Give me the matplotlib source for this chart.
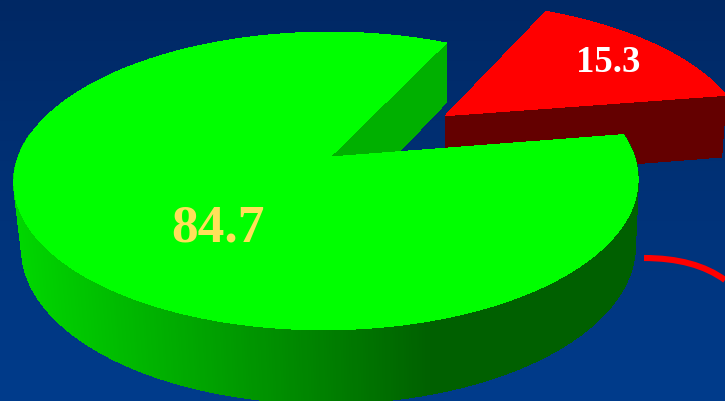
import numpy as np
import matplotlib
matplotlib.use('Agg')
import matplotlib.pyplot as plt
from matplotlib.colors import LinearSegmentedColormap
from matplotlib.patches import PathPatch, Polygon
from matplotlib.path import Path

labels = ['84.7', '15.3']
values = [84.7, 15.3]

# pie geometry, in pixels
W, H = 725, 401
APEX = (330, 157)
CENTER_X, CENTER_Y = 326, 157
SX, SY, PERSP = 308, 145, 0.161
SHEAR = 3
DROP, DROP_Y = 66, 0.05
SLICE_MID = 36.65
EXPLODE = 0.5


def project(u, v):
    # disc coordinates to the tilted top face
    d = 1 + PERSP * v
    return CENTER_X + SX * u / d + SHEAR * (v + 0.16), CENTER_Y - SY * v / d


def lower(x, y):
    # same point on the underside of the pie
    return x + (467 - x) * 0.0176, y + DROP + (y - 181) * DROP_Y


def side_colour(x):
    g = np.interp(x, [15, 150, 300, 430, 700], [215, 178, 135, 96, 96])
    return (0, g / 255, 0)


span = values[1] / sum(values) * 360
a0 = SLICE_MID - span / 2
a1 = SLICE_MID + span / 2
off_u = EXPLODE * np.cos(np.radians(SLICE_MID))
off_v = EXPLODE * np.sin(np.radians(SLICE_MID))

fig = plt.figure(figsize=(W / 100, H / 100), dpi=100)
ax = fig.add_axes([0, 0, 1, 1])
ax.set_xlim(0, W)
ax.set_ylim(H, 0)
ax.axis('off')

bg = LinearSegmentedColormap.from_list('bg', ['#002864', '#003c8c'])
ax.imshow(np.linspace(0, 1, 256)[:, None], cmap=bg, extent=[0, W, H, 0], aspect='auto', zorder=0)

# red slice, pulled out of the pie
t = np.radians(np.linspace(a0, a1, 60))
red_top = [project(off_u, off_v)] + [project(off_u + np.cos(a), off_v + np.sin(a)) for a in t]
p0 = red_top[0]
p1 = red_top[1]
ax.add_patch(Polygon([p0, p1, lower(*p1), lower(*p0)], closed=True, fc='#640000', ec='none', aa=False, zorder=1))
ax.add_patch(Polygon(red_top, closed=True, fc='#ff0000', ec='none', aa=False, zorder=2))

# cut face of the green part
rim = project(np.cos(np.radians(a1)), np.sin(np.radians(a1)))
ax.add_patch(Polygon([APEX, rim, lower(*rim), lower(*APEX)], closed=True, fc='#00b000', ec='none', aa=False, zorder=3))

# top outline of the green part
angles = np.radians(np.linspace(a1, a0 + 360, 700))
pts = [project(np.cos(a), np.sin(a)) for a in angles]

# outer wall, front half only, shaded strip by strip
front = [p for p, a in zip(pts, angles) if a > np.radians(170)]
for q0, q1 in zip(front[:-1], front[1:]):
    ax.add_patch(Polygon([q0, q1, lower(*q1), lower(*q0)], closed=True, fc=side_colour(q0[0]),
                         ec=side_colour(q0[0]), lw=0.6, aa=False, zorder=4))

ax.add_patch(Polygon([APEX] + pts, closed=True, fc='#00ff00', ec='none', aa=False, zorder=5))

# red leader line at the right
curve = Path([(644, 258), (695, 258), (725, 280)], [Path.MOVETO, Path.CURVE3, Path.CURVE3])
ax.add_patch(PathPatch(curve, fc='none', ec='#ff0000', lw=4.4, capstyle='butt', zorder=6))

serif = 'Liberation Serif'
ax.text(218, 229, labels[0], color='#ffe05a', fontsize=38.5, fontweight='bold', family=serif,
        ha='center', va='center', zorder=7)
ax.text(608, 62, labels[1], color='white', fontsize=26.5, fontweight='bold', family=serif,
        ha='center', va='center', zorder=7)

fig.savefig('out.png', dpi=100)
